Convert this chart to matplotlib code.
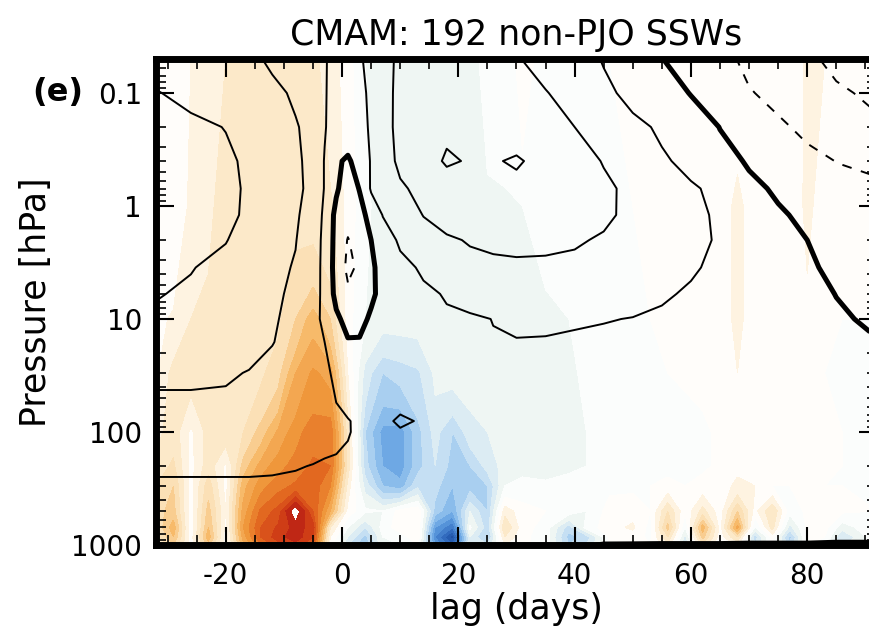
import numpy as np
import matplotlib
matplotlib.use("Agg")
import matplotlib.pyplot as plt
from matplotlib.colors import LinearSegmentedColormap, Normalize
from matplotlib.ticker import MultipleLocator, LogLocator, NullFormatter

plt.rcParams["axes.unicode_minus"] = False

# zonal wind (line contours), rows from top (0.05 hPa) to bottom (1000 hPa)
u_lags = [-32, -26, -20, -16, -12, -8, -5, -3, -1, 1, 3, 5, 7, 10, 14, 18,
          22, 26, 30, 35, 40, 45, 50, 55, 60, 65, 70, 75, 80, 85, 92]
u_pres = [0.05, 0.1, 0.2, 0.4, 0.7, 1.2, 2, 3.5, 6, 10, 16, 30, 80, 100, 200, 400, 1000]
u_wind = [
    [28, 27, 25, 22, 18.5, 15.5, 13, 10.5, 8, 7, 9, 12.5, 16.5, 22, 25, 27,
     27.5, 25.5, 20.6, 17, 13.5, 9.5, 5, 0.2, -4, -8, -11.5, -15, -18.5, -22, -25],
    [30.3, 28.5, 27, 25, 22.5, 18.5, 14.5, 10.5, 7.5, 6.5, 8, 11.5, 16.5, 22.5, 26, 28,
     28.8, 28, 25.5, 20.5, 16, 12, 7.5, 3.5, -0.3, -4, -9.5, -12, -15, -18.5, -22],
    [32, 31.5, 29.8, 27, 24, 21, 16, 10.5, 6.5, 3.5, 7.5, 11, 16, 23, 27, 29,
     29.5, 29, 27.5, 25, 20, 16, 12.5, 8.5, 5, -0.2, -4.5, -8.5, -12, -15, -18],
    [33, 33, 31.5, 28.5, 25, 21.5, 17.5, 9.5, 1, -1, 3, 10.8, 15.5, 22, 27, 30.8,
     29.5, 29.5, 30.7, 28, 24, 19.5, 15, 11.5, 7, 3.5, -1, -4, -7, -10.2, -12],
    [34, 34, 31.8, 29, 25.5, 22, 17.5, 9.5, 1, -4, 0.3, 11, 15, 18.5, 23, 26,
     28, 28.5, 28, 27, 25, 22, 17.5, 14, 11.5, 7, 2.5, -1.5, -4, -6, -8],
    [34.5, 34.5, 32, 28.5, 25, 21, 16.5, 8, -2.5, -7, -3, 3, 10.3, 14, 20.3, 24,
     26, 27, 27.5, 27, 25, 21.5, 18, 15.5, 12.5, 8.5, 5, 1.5, -2.5, -4.5, -6],
    [34.5, 33, 30.3, 27, 24, 20.3, 15, 7.5, -3, -10.5, -6, 0, 5, 11.5, 15, 18.5,
     20.8, 22, 22.5, 22, 21, 19, 17.5, 15, 12.5, 9, 6, 3, 0, -2.5, -4.5],
    [33, 30.4, 27.5, 25, 22.5, 19.3, 14.5, 7.3, -3.5, -12, -8.5, -1.5, 3, 7, 11.5, 14.5,
     16.5, 17.5, 18, 18, 17.5, 16.5, 15, 13, 10.8, 8.5, 6, 3.5, 0.8, -1.2, -2.5],
    [30.6, 28.5, 26, 24, 21.5, 18.5, 14, 7.5, -2.5, -8, -7, -1.5, 2.5, 5, 8, 10.8,
     12, 12.5, 13, 13, 13, 12.5, 12, 11, 9, 6, 4.5, 3, 1.5, -0.1, -1.5],
    [28, 27, 25, 23.5, 21, 17.5, 13.5, 7.5, 2, -3.5, -3, 1.5, 4, 6, 7.5, 8.5,
     9.2, 10.1, 10.7, 10.7, 10.5, 10.3, 9.8, 8.5, 7, 5.5, 4, 3, 2, 0.8, -1],
    [25, 24.5, 23.5, 22, 20.3, 17, 13.5, 10, 5, 1, 1, 3.5, 5, 6.5, 7.5, 8.5,
     9.2, 9.7, 9.8, 9.7, 9.3, 8.5, 7.5, 6.5, 5.5, 4.5, 3.5, 2.5, 1.5, 1, 0.3],
    [21, 21, 20.8, 19.7, 17, 15, 13, 11, 9, 7, 6, 5.5, 5.5, 6, 6.5, 7,
     7, 7, 7, 6.5, 6, 5.5, 5, 4.5, 4, 3.5, 3, 2.5, 2, 1.5, 1],
    [17, 17, 16.5, 16, 15, 14, 13, 12, 11, 10.3, 9, 7, 8.5, 11, 9.3, 8.5,
     8, 7.5, 7, 6.5, 6, 5.5, 5, 4.5, 4, 3.5, 3, 2.5, 2.5, 2, 2],
    [14, 14, 14, 14, 13.5, 13, 12.5, 12.5, 12, 10.5, 8.5, 7.5, 8, 9.3, 8.5, 8,
     7.5, 7, 6.5, 6, 5.5, 5, 4.5, 4, 3.5, 3.5, 3, 2.5, 2.5, 2, 2],
    [11, 11, 11, 11, 10.8, 10.4, 9.8, 9, 8.5, 8, 7.5, 7, 7, 7, 7, 6.5,
     6.5, 6, 6, 5.5, 5, 4.5, 4, 3.5, 3, 3, 2.5, 2.5, 2, 2, 2],
    [7, 7, 7, 7, 7, 6.5, 6, 6, 5.5, 5, 5, 5, 5, 5, 4.5, 4.5,
     4, 4, 4, 3.5, 3, 3, 2.5, 2, 2, 2, 1.5, 1.5, 1.5, 1, 1],
    [2.5, 2.5, 2.5, 2.5, 2.5, 2, 2, 2, 1.5, 1.5, 1.5, 1.5, 1.5, 1.5, 1, 1,
     1, 1, 1, 0.5, 0.3, -0.1, -0.1, -0.1, -0.1, -0.1, -0.1, -0.1, -0.1, -0.1, -0.1],
]

# shaded anomaly, rows from top (0.05 hPa) to bottom (1000 hPa)
t_lags = [-32, -29, -26, -23, -20, -17, -14, -11, -8, -5, -2, 1, 4, 7, 10, 13, 16, 19, 22, 25,
          28, 31, 35, 39, 42, 46, 50, 53, 56, 59, 62, 65, 68, 71, 74, 77, 80, 83, 86, 92]
t_pres = [0.05, 1, 10, 30, 100, 200, 300, 500, 700, 850, 1000]
t_anom = [
    [0.3, 0.2, 0.5, 0.6, 1.0, 1.2, 1.3, 1.3, 1.2, 1.1, 0.8, 0.2, -0.5, -0.6, -0.7, -0.7, -0.7, -0.6, -0.6, -0.4,
     -0.3, 0.2, -0.2, 0.0, 0.0, 0.0, 0.1, 0.1, 0.2, 0.0, 0.1, 0.3, 0.4, 0.2, 0.1, 0.1, 0.6, 0.5, 0.1, 0.2],
    [0.2, 0.1, 0.6, 0.9, 1.2, 1.3, 1.4, 1.4, 1.4, 1.3, 1.1, 0.3, -0.4, -0.7, -0.8, -0.8, -0.8, -0.7, -0.7, -0.6,
     -0.6, -0.5, -0.4, -0.3, -0.1, 0.0, 0.0, 0.1, 0.1, 0.0, 0.1, 0.3, 0.6, 0.3, 0.1, 0.2, 0.6, 0.3, 0.1, 0.1],
    [0.3, 0.6, 1.0, 1.2, 1.2, 1.2, 1.3, 1.4, 2.0, 2.8, 2.0, 0.2, -0.5, -0.8, -0.8, -0.8, -0.8, -0.8, -0.7, -0.7,
     -0.6, -0.6, -0.6, -0.5, -0.3, -0.2, -0.1, 0.0, 0.1, 0.1, 0.1, 0.3, 0.6, 0.3, 0.1, 0.2, 0.3, 0.1, 0.0, 0.0],
    [0.4, 1.2, 1.2, 1.3, 1.4, 1.3, 1.4, 1.8, 3.0, 3.6, 3.3, 0.5, -1.2, -2.0, -1.8, -1.6, -0.9, -0.8, -0.8, -0.7,
     -0.7, -0.6, -0.6, -0.6, -0.4, -0.3, -0.3, -0.2, 0.0, 0.1, 0.1, 0.2, 0.5, 0.3, 0.1, 0.2, 0.2, 0.0, 0.0, 0.0],
    [0.8, 1.3, 0.4, 1.2, 1.3, 1.5, 2.2, 3.1, 3.8, 4.3, 4.4, 1.2, -2.0, -3.2, -3.3, -2.2, -1.3, -2.0, -1.2, -1.0,
     -0.9, -0.8, -0.7, -0.6, -0.5, -0.3, -0.3, -0.3, -0.2, -0.4, -0.1, 0.1, 0.4, 0.3, 0.1, 0.2, 0.3, 0.1, 0.0, 0.0],
    [1.2, 1.6, 0.3, 1.3, 0.4, 2.2, 3.2, 3.8, 4.2, 4.6, 4.5, 1.3, -1.8, -3.0, -3.3, -2.2, -1.5, -2.2, -2.0, -1.3,
     -0.8, -0.7, -0.7, -0.6, -0.5, -0.4, -0.3, -0.3, -0.2, -0.3, -0.1, 0.1, 0.4, 0.3, 0.1, 0.2, 0.3, 0.1, 0.0, 0.0],
    [1.5, 2.0, 0.3, 1.8, 0.3, 2.8, 3.8, 4.3, 4.6, 4.8, 4.0, 0.8, -1.2, -2.5, -2.8, -1.6, -1.8, -2.5, -2.2, -2.0,
     -0.5, -0.3, -0.4, -0.3, -0.4, -0.1, -0.1, 0.0, 0.2, 0.0, 0.2, 0.3, 0.6, 0.5, 0.0, 0.0, 0.2, 0.0, 0.0, 0.0],
    [1.8, 2.2, 0.2, 2.2, 0.5, 3.2, 4.6, 5.2, 7.0, 5.0, 3.0, 0.3, -0.4, -0.5, 0.2, 0.4, -2.2, -3.0, -1.0, -2.0,
     0.8, 0.2, 0.0, -0.2, -0.5, 0.2, 0.3, 0.0, 1.5, 0.1, 1.2, 0.2, 2.0, 0.3, 1.5, -0.3, 0.1, 0.3, 0.1, 0.0],
    [1.5, 2.8, 0.1, 2.5, 0.3, 3.5, 5.0, 5.6, 6.2, 5.8, 1.0, -0.5, -1.5, -0.3, 0.3, 0.5, -3.5, -4.5, -0.4, -1.8,
     1.5, 0.2, -0.2, -1.8, -0.3, 0.3, 0.6, -0.2, 2.2, -0.5, 2.8, 0.3, 3.2, -0.6, 1.2, -1.2, 0.1, 0.2, -0.8, 0.0],
    [1.2, 2.5, 0.2, 2.8, 0.2, 3.2, 5.0, 5.8, 6.3, 5.5, 0.5, -1.0, -2.2, -0.5, -0.3, 0.4, -4.0, -5.8, -1.0, -2.2,
     1.0, 0.1, -0.2, -2.2, -1.8, 0.1, 0.2, -0.1, 1.5, -1.2, 2.2, 0.2, 1.5, -1.8, 0.2, -2.2, 0.1, 0.0, -1.5, 0.0],
    [0.8, 2.0, 0.2, 2.2, 0.1, 2.8, 4.5, 5.2, 5.8, 5.0, 0.2, -1.5, -2.5, -0.5, -0.5, 0.0, -3.5, -5.0, -1.0, -1.5,
     0.5, 0.1, -0.2, -2.0, -1.5, 0.0, 0.1, 0.0, 0.8, -1.5, 1.2, 0.0, 0.6, -1.5, 0.1, -2.0, 0.0, 0.0, -1.2, 0.0],
]

# colour anchors for the shading
cmap_vals = [-6.5, -5, -3.5, -2.5, -1.5, -0.8, -0.3, 0, 0.3, 1.0, 1.8, 2.8, 3.8, 4.8, 5.8, 6.5]
cmap_cols = ["#173f8f", "#2a62b8", "#5d9de0", "#9cc8ef", "#d3e7f4", "#edf5f2", "#fafcfb", "#ffffff",
             "#fffdf9", "#fdedd2", "#fbdfb4", "#f7b968", "#ef9538", "#e2661f", "#cf3c16", "#b81f14"]
vmin, vmax = -6.5, 6.5
cmap = LinearSegmentedColormap.from_list(
    "anom", [((v - vmin) / (vmax - vmin), c) for v, c in zip(cmap_vals, cmap_cols)])
shade_levels = np.linspace(vmin, vmax, 27)

fig = plt.figure(figsize=(8.7, 6.32), dpi=100)
ax = fig.add_axes([156 / 870, 1 - 545 / 632, 721 / 870, 486 / 632])

# flip rows so pressure increases
tp = np.array(t_pres)[::-1]
tz = np.array(t_anom)[::-1]
up = np.array(u_pres)[::-1]
uz = np.array(u_wind)[::-1]

ax.contourf(t_lags, tp, tz, levels=shade_levels, cmap=cmap,
            norm=Normalize(vmin, vmax))
ax.contour(u_lags, up, uz, levels=[10, 20, 30], colors="k", linewidths=1.4)
ax.contour(u_lags, up, uz, levels=[0], colors="k", linewidths=3.6)
ax.contour(u_lags, up, uz, levels=[-20, -10], colors="k", linewidths=1.4,
           linestyles=[(0, (5, 5))])

ax.set_yscale("log")
ax.set_ylim(1000, 0.05)
ax.set_xlim(-32, 92)
ax.set_yticks([0.1, 1, 10, 100, 1000])
ax.set_yticklabels(["0.1", "1", "10", "100", "1000"])
ax.yaxis.set_minor_locator(LogLocator(base=10, subs=np.arange(2, 10)))
ax.yaxis.set_minor_formatter(NullFormatter())
ax.set_xticks([-20, 0, 20, 40, 60, 80])
ax.xaxis.set_minor_locator(MultipleLocator(5))

ax.tick_params(which="both", direction="in", top=True, right=True)
ax.tick_params(which="major", length=13, width=1.5, labelsize=20)
ax.tick_params(axis="x", which="major", pad=12)
ax.tick_params(axis="y", which="major", pad=10)
ax.tick_params(which="minor", length=7, width=1.2)
for s in ax.spines.values():
    s.set_linewidth(5)

ax.set_title("CMAM: 192 non-PJO SSWs", fontsize=25, pad=10)
ax.set_xlabel("lag (days)", fontsize=25, labelpad=2)
ax.set_ylabel("Pressure [hPa]", fontsize=25, labelpad=13)
fig.text(32 / 870, 1 - 93 / 632, "(e)", fontsize=23, fontweight="bold",
         ha="left", va="center")

fig.savefig("out.png", dpi=100)
